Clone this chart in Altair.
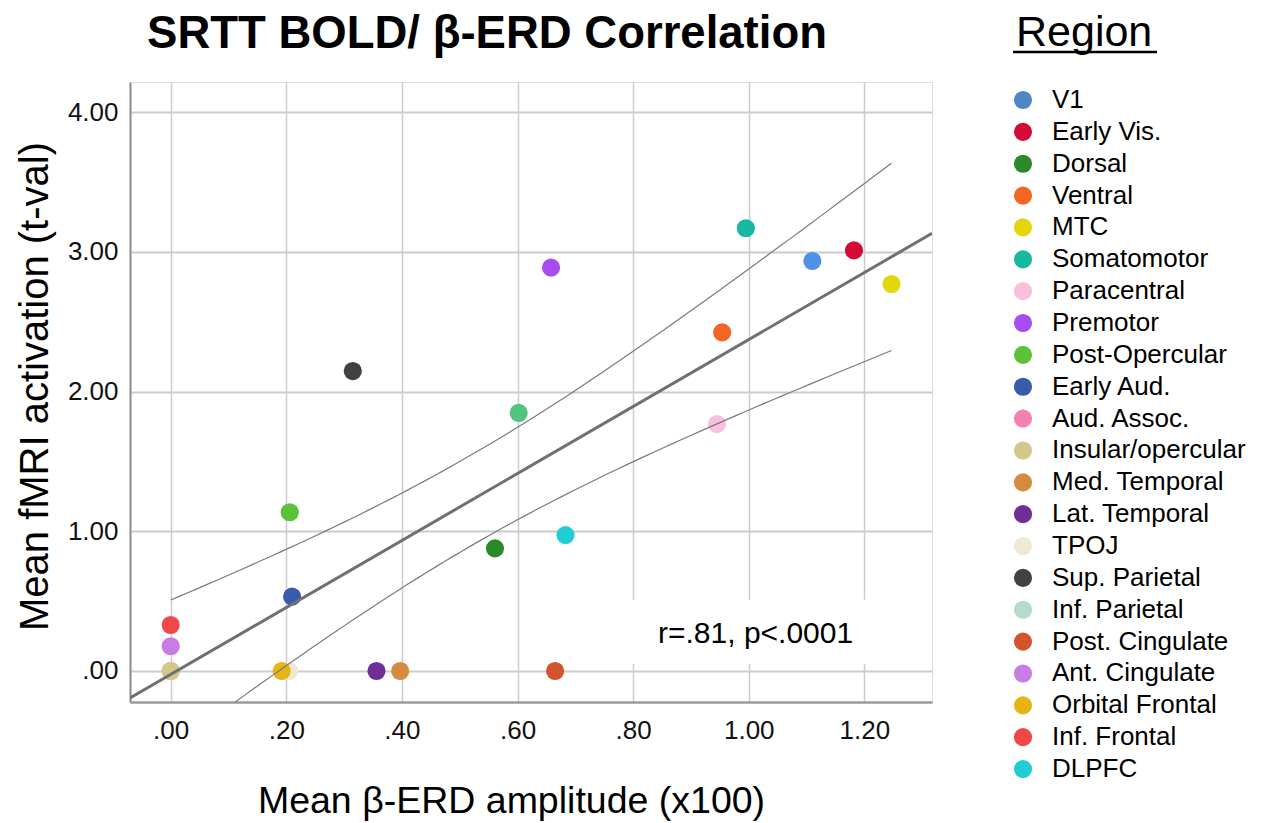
import altair as alt
import numpy as np
import pandas as pd

# ---------------- data ----------------
regions = ["V1", "Early Vis.", "Dorsal", "Ventral", "MTC", "Somatomotor",
           "Paracentral", "Premotor", "Post-Opercular", "Early Aud.",
           "Aud. Assoc.", "Insular/opercular", "Med. Temporal", "Lat. Temporal",
           "TPOJ", "Sup. Parietal", "Inf. Parietal", "Post. Cingulate",
           "Ant. Cingulate", "Orbital Frontal", "Inf. Frontal", "DLPFC"]
erd_amp = [1.110, 1.182, 0.561, 0.954, 1.247, 0.995, 0.945, 0.658, 0.206, 0.210,
           0.000, 0.000, 0.397, 0.356, 0.205, 0.315, 0.602, 0.665, 0.000, 0.192,
           0.000, 0.683]
bold_t = [2.935, 3.011, 0.878, 2.424, 2.770, 3.169, 1.768, 2.887, 1.136, 0.532,
          0.000, 0.000, 0.000, 0.000, 0.000, 2.147, 1.847, 0.000, 0.177, 0.000,
          0.329, 0.973]

# palette
point_colors = ["#4d92e3", "#d40a34", "#2a8a2a", "#f26522", "#e3d60c", "#17b8a0",
                "#f8c0dc", "#a64cf0", "#5cc23a", "#3a5aab", "#f47fb1", "#d3c88c",
                "#d58a3e", "#6f2f96", "#efe8d4", "#414141", "#52c47f", "#d3532c",
                "#c87de6", "#e4b515", "#ef4848", "#21cdd2"]
legend_colors = ["#4f86c6", "#d40a34", "#2a8a2a", "#f26522", "#e3d60c", "#17b8a0",
                 "#f8c0dc", "#a64cf0", "#5cc23a", "#3a5aab", "#f47fb1", "#d3c88c",
                 "#d58a3e", "#6f2f96", "#efe8d4", "#414141", "#b4dcc8", "#d3532c",
                 "#c87de6", "#e4b515", "#ef4848", "#21cdd2"]

x_ticks = [0.0, 0.2, 0.4, 0.6, 0.8, 1.0, 1.2]
y_ticks = [0.0, 1.0, 2.0, 3.0, 4.0]
X_DOMAIN = [-0.0704, 1.317]
Y_DOMAIN = [-0.222, 4.216]

title_text = "SRTT BOLD/ β-ERD Correlation"
x_title = "Mean β-ERD amplitude (x100)"
y_title = "Mean fMRI activation (t-val)"
legend_title = "Region"
stat_text = "r=.81, p<.0001"

# ---------------- derived: linear fit and 95% CI of the mean ----------------
x = np.array(erd_amp)
y = np.array(bold_t)
n = len(x)
slope, intercept = np.polyfit(x, y, 1)
resid = y - (slope * x + intercept)
s = np.sqrt(np.sum(resid ** 2) / (n - 2))
sxx = np.sum((x - x.mean()) ** 2)
t_crit = 2.086  # t(0.975, df=20)

fit_df = pd.DataFrame({"x": X_DOMAIN,
                       "y": [slope * v + intercept for v in X_DOMAIN]})
cx = np.linspace(x.min(), x.max(), 80)
half = t_crit * s * np.sqrt(1.0 / n + (cx - x.mean()) ** 2 / sxx)
ci_df = pd.concat([
    pd.DataFrame({"x": cx, "y": slope * cx + intercept + half, "band": "upper"}),
    pd.DataFrame({"x": cx, "y": slope * cx + intercept - half, "band": "lower"}),
])

df = pd.DataFrame({"Region": regions, "erd": erd_amp, "bold": bold_t,
                   "pcolor": point_colors, "order": list(range(n))})

FONT = "Liberation Sans"
W, H = 802, 620
label_expr = ("datum.value < 1 ? substring(format(datum.value, '.2f'), 1)"
              " : format(datum.value, '.2f')")

xs = alt.Scale(domain=X_DOMAIN, nice=False, zero=False)
ys = alt.Scale(domain=Y_DOMAIN, nice=False, zero=False)

x_axis = alt.Axis(values=x_ticks, labelExpr=label_expr, title=x_title,
                  titleFontSize=37.5, titleFontWeight="normal", titleColor="black",
                  titleFont=FONT, titleX=381, titleY=110,
                  titleBaseline="alphabetic",
                  labelFontSize=26, labelColor="#111111", labelFont=FONT,
                  ticks=False, tickSize=0, labelPadding=15,
                  domainColor="#9a9a9a", domainWidth=2.5,
                  gridColor="#cccccc", gridWidth=1.5)
y_axis = alt.Axis(values=y_ticks, labelExpr=label_expr, title=y_title,
                  titleFontSize=40, titleFontWeight="normal", titleColor="black",
                  titleFont=FONT, titleX=-83, titleY=304,
                  titleBaseline="alphabetic",
                  labelFontSize=26, labelColor="#111111", labelFont=FONT,
                  ticks=False, tickSize=0, labelPadding=12,
                  domainColor="#8a8a8a", domainWidth=2,
                  gridColor="#cccccc", gridWidth=2)

base = alt.Chart(df)

# white box behind the statistic
box = alt.Chart(pd.DataFrame({"x": [0.79], "x2": [X_DOMAIN[1]],
                              "y": [0.05], "y2": [0.51]})).mark_rect(
    color="white").encode(
    x=alt.X("x:Q", scale=xs, axis=x_axis), x2="x2:Q",
    y=alt.Y("y:Q", scale=ys, axis=y_axis), y2="y2:Q")

points = base.mark_circle(size=330, opacity=1).encode(
    x=alt.X("erd:Q", scale=xs, axis=x_axis),
    y=alt.Y("bold:Q", scale=ys, axis=y_axis),
    color=alt.Color("pcolor:N", scale=None, legend=None),
    order=alt.Order("order:Q"),
)

legend_layer = base.mark_circle(size=0, opacity=0).encode(
    x=alt.X("erd:Q", scale=xs),
    y=alt.Y("bold:Q", scale=ys),
    color=alt.Color("Region:N",
                    scale=alt.Scale(domain=regions, range=legend_colors),
                    sort=regions,
                    legend=alt.Legend(title=None, orient="none", legendX=880,
                                      legendY=5, direction="vertical",
                                      labelFontSize=26, labelFont=FONT,
                                      labelColor="black", labelLimit=400,
                                      symbolType="circle", symbolSize=330,
                                      symbolOpacity=1, symbolStrokeWidth=0,
                                      rowPadding=5.86, labelOffset=16)),
)

ci_lines = alt.Chart(ci_df).mark_line(color="#7a7a7a", strokeWidth=1.2,
                                      clip=True).encode(
    x=alt.X("x:Q", scale=xs), y=alt.Y("y:Q", scale=ys),
    detail="band:N")

fit_line = alt.Chart(fit_df).mark_line(color="#707070", strokeWidth=3,
                                       clip=True).encode(
    x=alt.X("x:Q", scale=xs), y=alt.Y("y:Q", scale=ys))

stat = alt.Chart(pd.DataFrame({"x": [0.843], "y": [0.2],
                               "t": [stat_text]})).mark_text(
    font=FONT, fontSize=30, align="left", baseline="alphabetic",
    color="black").encode(
    x=alt.X("x:Q", scale=xs), y=alt.Y("y:Q", scale=ys), text="t:N")

one = pd.DataFrame({"t": [title_text], "r": [legend_title]})
title_mark = alt.Chart(one).mark_text(
    font=FONT, fontSize=45.5, fontWeight="bold", align="center",
    baseline="alphabetic", color="black").encode(
    x=alt.value(357), y=alt.value(-34), text="t:N")
region_mark = alt.Chart(one).mark_text(
    font=FONT, fontSize=43, align="left", baseline="alphabetic",
    color="black").encode(
    x=alt.value(886), y=alt.value(-36), text="r:N")
underline = alt.Chart(one).mark_rule(color="black", strokeWidth=2.5).encode(
    x=alt.value(883), x2=alt.value(1027), y=alt.value(-30))

chart = alt.layer(box, points, legend_layer, ci_lines, fit_line, stat,
                  title_mark, region_mark, underline).resolve_scale(
    color="independent").properties(
    width=W, height=H,
    autosize=alt.AutoSizeParams(type="none"),
    padding={"left": 122, "top": 74, "right": 318, "bottom": 120},
).configure_view(stroke=None).configure(background="white")

chart.save("out.html", embed_options={"renderer": "svg", "actions": False})
